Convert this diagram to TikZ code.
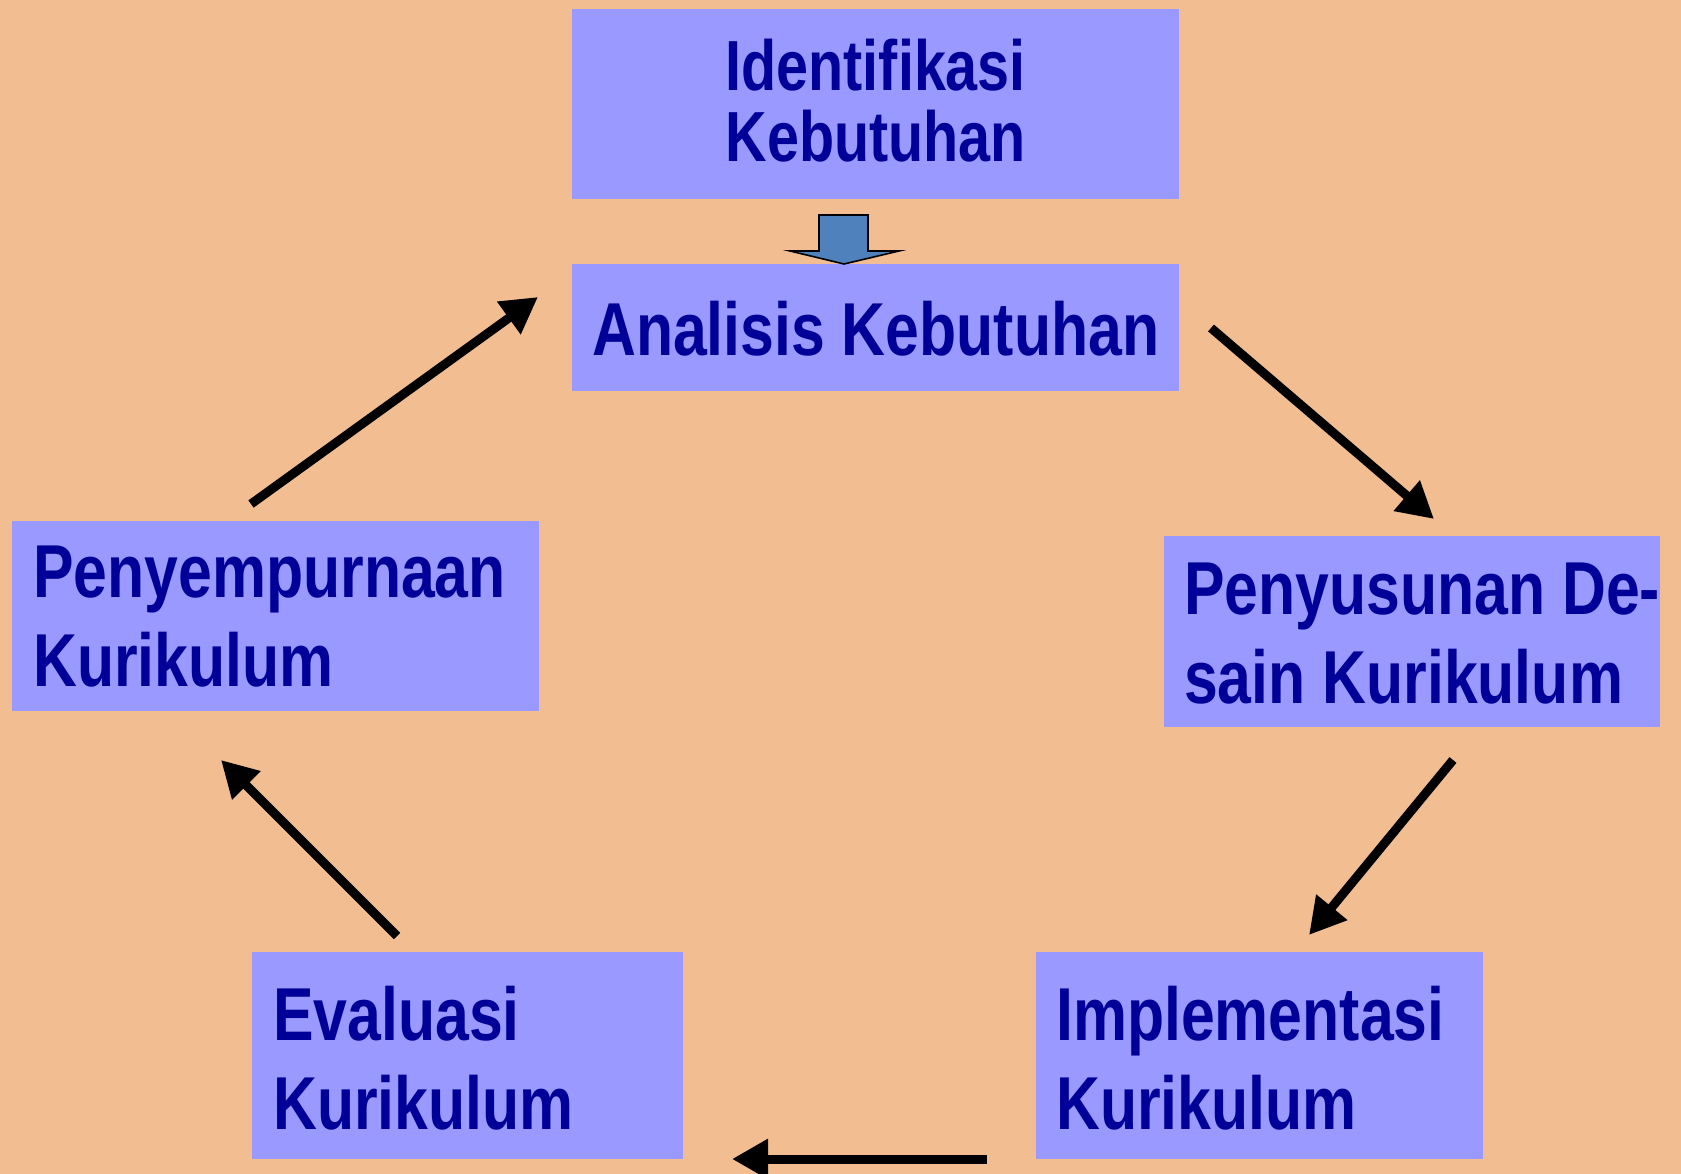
\documentclass[tikz,border=0pt]{standalone}
\usepackage{fontspec}
\setmainfont{Liberation Sans}
\newfontfamily\narrowbold[FakeStretch=0.81]{Liberation Sans Bold}
\usetikzlibrary{arrows.meta}
\definecolor{bgc}{HTML}{F2BE91}
\definecolor{boxc}{HTML}{9999FF}
\definecolor{txtc}{HTML}{000099}
\definecolor{blockc}{HTML}{4F81BD}
\tikzset{
  box/.style={fill=boxc, draw=none, inner sep=0pt, anchor=north west},
  label/.style={text=txtc, inner sep=0pt, align=left, anchor=west,
    font=\narrowbold\fontsize{75}{89}\selectfont},
  flow/.style={line width=9pt, -{Triangle[length=36pt,width=38pt]}},
}
\begin{document}
\begin{tikzpicture}[x=1pt,y=-1pt]
\path[fill=bgc, use as bounding box] (0,0) rectangle (1681,1174);
% boxes
\node[box, minimum width=607pt, minimum height=190pt] (identbox) at (572,9) {};
\node[box, minimum width=607pt, minimum height=127pt] (analbox) at (572,264) {};
\node[box, minimum width=527pt, minimum height=190pt] (sempbox) at (12,521) {};
\node[box, minimum width=496pt, minimum height=191pt] (susunbox) at (1164,536) {};
\node[box, minimum width=431pt, minimum height=207pt] (evalbox) at (252,952) {};
\node[box, minimum width=447pt, minimum height=207pt] (implbox) at (1036,952) {};
% texts
\node[label, anchor=center, align=center, font=\narrowbold\fontsize{71}{71}\selectfont] (ident) at ([yshift=4pt]identbox.center) {Identifikasi\\Kebutuhan};
\node[label, anchor=center, align=center] (anal) at ([yshift=-1pt]analbox.center) {Analisis Kebutuhan};
\node[label] (semp) at ([xshift=21pt,yshift=0pt]sempbox.west) {Penyempurnaan\\Kurikulum};
\node[label] (susun) at ([xshift=20pt,yshift=-2pt]susunbox.west) {Penyusunan De-\\sain Kurikulum};
\node[label] (eval) at ([xshift=21pt,yshift=-2pt]evalbox.west) {Evaluasi\\Kurikulum};
\node[label] (impl) at ([xshift=20pt,yshift=-2pt]implbox.west) {Implementasi\\Kurikulum};
% block arrow
\draw[fill=blockc, line width=1.6pt, line join=miter]
  (819,215) -- (868,215) -- (868,251) -- (899,251) -- (844,264) -- (790,251) -- (819,251) -- cycle;
% cycle arrows
\coordinate (a1) at (1211,328); \coordinate (a2) at (1434,519);
\coordinate (b1) at (1453,760); \coordinate (b2) at (1309,935);
\coordinate (c1) at (987,1159); \coordinate (c2) at (732,1159);
\coordinate (d1) at (397,936); \coordinate (d2) at (221,760);
\coordinate (e1) at (251,504); \coordinate (e2) at (538,297);
\draw[flow] (a1) -- (a2);
\draw[flow] (b1) -- (b2);
\draw[flow] (c1) -- (c2);
\draw[flow] (d1) -- (d2);
\draw[flow] (e1) -- (e2);
\end{tikzpicture}
\end{document}
